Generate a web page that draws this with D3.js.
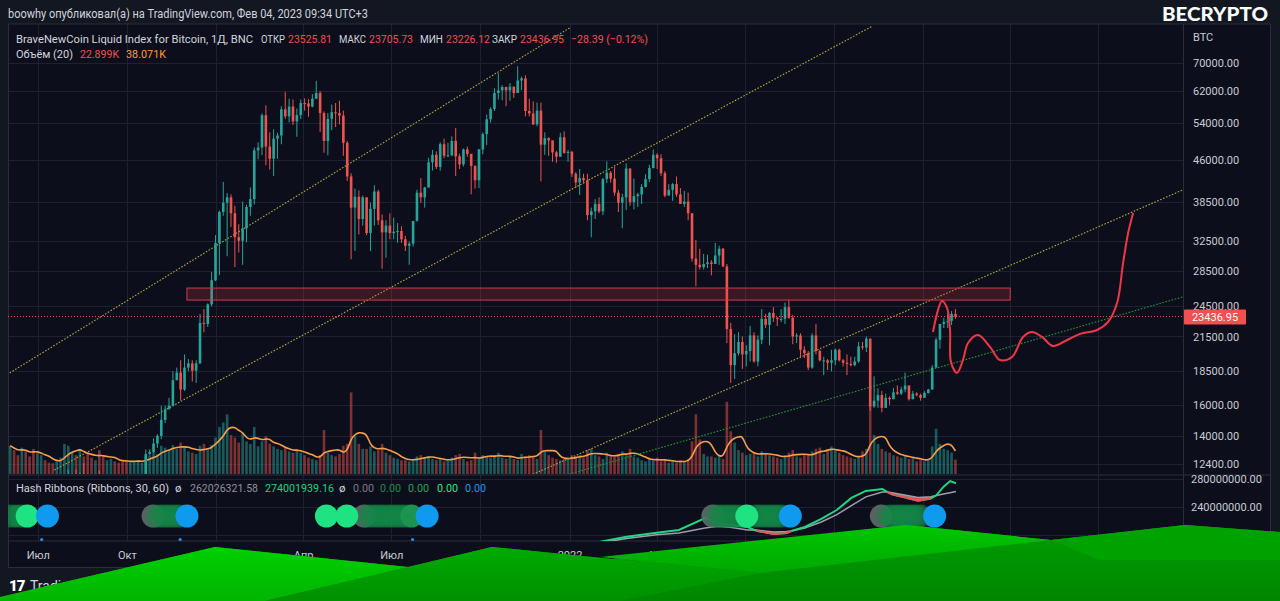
<!DOCTYPE html>
<html><head><meta charset="utf-8">
<script src="https://cdn.jsdelivr.net/npm/d3@7/dist/d3.min.js"></script>
<style>
html,body{margin:0;padding:0;background:#131722;overflow:hidden}
svg{display:block}
</style></head><body>
<script>
// ---------------- DATA ----------------
// 4-day candles (prices in thousands), starting 2020-06-01
const candleStart = '2020-06-01';
const candleDays = 4;
const firstOpen = 9.45;
const closes = [
9.79,9.77,9.46,9.52,9.35,9.28,9.0,9.1,9.34,9.27,
9.25,9.16,9.52,9.9,11.1,11.2,11.6,11.4,11.8,11.75,
11.65,11.3,11.65,10.5,10.1,10.45,10.95,10.9,10.75,10.7,
10.6,10.6,11.3,11.43,11.5,12.95,13.05,13.55,14.0,15.0,
15.7,15.95,17.8,18.4,17.1,18.8,19.15,18.55,19.15,22.8,
22.7,24.7,27.4,32.2,36.8,38.3,39.2,36.6,33.0,32.5,
34.3,37.6,38.9,48.0,48.6,55.9,48.8,46.3,50.5,51.2,
57.3,55.6,58.0,54.4,55.9,58.9,58.8,58.0,60.0,61.5,
56.4,50.0,55.0,56.6,56.4,55.8,49.6,42.9,37.5,39.3,
35.7,39.2,33.6,37.3,40.2,35.5,33.7,34.7,33.6,33.8,
33.9,32.7,31.8,32.1,35.4,40.0,39.2,40.9,45.6,47.1,
44.7,49.3,46.9,47.0,50.0,46.8,45.2,48.2,47.3,44.9,
42.2,48.2,51.5,54.9,57.4,61.5,62.2,63.1,62.2,63.2,
61.5,64.9,65.5,56.9,56.3,53.7,57.0,49.2,50.6,50.1,
47.6,46.7,50.8,47.5,47.7,43.4,41.8,42.6,42.2,36.3,
36.9,38.1,36.9,42.4,43.6,42.5,40.0,38.3,39.2,44.4,
38.4,39.4,39.7,41.0,42.4,44.5,47.1,46.4,43.5,39.5,
40.5,41.5,39.7,38.1,38.5,36.6,30.1,29.3,29.0,29.4,
29.6,29.4,30.5,31.4,29.1,22.2,19.0,20.0,21.0,19.9,
20.2,21.6,19.3,21.2,23.2,22.6,23.8,23.3,23.2,23.2,
24.4,23.3,21.5,21.6,20.3,20.0,18.8,21.6,20.2,19.4,
19.4,19.2,19.4,20.3,19.4,19.2,19.1,19.0,19.3,20.6,
20.5,21.3,15.9,16.3,16.7,15.8,16.5,16.4,16.9,16.8,
17.1,17.4,16.4,16.8,16.7,16.5,16.85,17.1,18.8,21.2,
22.7,22.9,23.0,23.7,23.43695];
const highs = [
10.4,9.85,9.99,9.55,9.55,9.75,9.35,9.25,9.38,9.45,
9.35,9.25,9.55,10.0,11.4,12.1,11.9,12.1,11.95,12.45,
11.9,11.8,11.8,12.05,10.6,10.6,11.0,11.1,10.95,10.95,
10.9,10.8,11.5,11.7,11.55,13.2,13.2,13.85,14.1,15.95,
15.95,16.5,18.5,18.8,19.4,19.9,19.5,19.4,19.4,23.7,
24.2,24.8,28.4,33.3,37.0,41.9,39.9,39.7,37.8,34.9,
38.5,38.0,40.9,48.6,49.7,56.3,58.3,51.9,52.6,51.8,
58.1,61.8,60.0,59.8,57.5,59.8,60.1,59.9,61.2,64.8,
62.0,56.8,56.4,58.5,58.9,59.5,57.0,50.0,43.5,40.7,
40.4,39.5,37.9,38.3,41.3,40.5,36.4,35.5,36.6,35.9,
35.1,34.6,33.2,32.4,35.4,40.5,42.6,41.0,46.5,48.1,
47.8,49.7,50.5,49.6,51.0,52.9,47.3,48.4,48.8,47.0,
45.0,48.3,51.9,56.0,57.8,62.8,67.0,63.6,63.2,64.2,
63.0,69.0,66.0,66.4,60.0,59.3,59.0,59.0,51.9,50.8,
49.5,47.9,51.8,52.1,48.1,47.9,43.7,44.3,43.4,43.4,
37.5,38.9,39.2,42.6,45.8,43.9,44.7,40.5,39.8,45.4,
43.9,42.5,40.0,41.5,43.3,45.1,48.2,47.4,47.2,43.9,
41.5,41.7,42.9,40.8,40.3,40.0,36.6,32.6,31.4,30.7,
30.6,29.9,32.2,31.8,31.5,29.4,22.8,21.7,21.9,21.5,
20.7,22.5,21.9,21.6,24.2,23.7,23.9,24.4,23.4,24.2,
24.9,25.2,23.6,21.8,21.8,20.6,20.2,21.8,22.7,20.3,
19.7,19.5,20.3,20.4,20.4,19.5,19.9,19.7,19.7,21.0,
21.0,21.5,21.1,18.1,17.2,17.0,16.8,16.6,17.2,17.4,
17.3,18.4,17.3,17.0,16.9,16.8,16.98,17.15,19.0,21.4,
22.7,23.3,23.8,24.0,24.2];
const lows = [
9.4,9.55,9.1,8.95,9.2,9.25,8.9,8.9,9.0,9.1,
9.15,9.05,9.1,9.45,9.9,10.7,11.1,11.2,11.2,11.6,
11.4,11.1,11.3,10.0,9.9,10.1,10.2,10.75,10.1,10.6,
10.45,10.5,10.6,11.2,11.25,11.4,12.9,13.0,13.3,13.8,
14.8,15.8,15.9,17.8,16.3,17.0,18.5,17.7,17.6,19.1,
21.9,22.4,24.5,27.3,28.0,36.2,30.4,34.5,29.0,30.9,
29.3,32.3,36.2,38.0,46.2,47.1,45.0,44.2,43.0,46.3,
49.3,55.0,54.2,53.6,50.9,55.0,57.0,55.5,57.8,60.0,
52.0,47.5,47.0,52.4,53.1,53.7,46.9,42.1,30.0,31.1,
33.4,34.7,33.3,31.1,34.7,34.8,28.8,30.2,32.7,32.7,
32.2,32.2,31.1,29.3,31.7,35.3,38.3,37.5,42.9,44.0,
44.3,44.0,46.4,46.6,46.8,43.0,44.3,44.8,46.7,39.7,
40.7,40.8,47.2,49.1,54.1,56.9,59.8,59.6,58.1,59.5,
60.2,62.8,62.3,55.6,55.6,53.6,53.3,42.0,47.1,46.9,
45.7,45.5,48.4,47.3,45.7,42.8,40.8,39.6,41.6,35.5,
33.0,35.7,36.6,36.3,41.7,41.8,39.5,36.8,34.3,37.1,
37.8,37.2,37.6,38.1,40.9,41.9,44.4,44.3,43.0,39.2,
39.6,38.6,39.3,38.2,37.6,35.5,29.7,26.7,28.7,28.7,
28.9,28.0,29.5,29.3,29.0,20.9,17.6,17.9,19.8,18.7,
18.9,19.3,19.2,18.9,20.8,22.3,20.7,22.9,22.5,22.9,
22.7,23.2,20.8,20.9,19.6,19.6,18.6,18.7,19.9,19.3,
18.2,18.6,18.5,19.0,19.3,18.9,18.2,18.9,18.9,19.2,
20.3,20.1,15.6,15.8,15.8,15.5,15.8,16.0,16.4,16.7,
16.7,16.9,16.3,16.4,16.6,16.3,16.5,16.8,17.1,18.8,
20.4,22.3,22.3,22.6,23.2];
// volume per candle (K)
const volumes = [
45,38,30,42,36,28,40,33,30,
22,18,17,20,26,
48,45,35,30,40,28,32,
26,22,38,30,22,24,20,18,22,20,21,19,22,18,28,
30,34,32,45,42,38,46,40,50,42,36,34,
32,45,48,40,46,58,
75,82,95,62,58,50,66,52,
48,75,44,52,60,48,
44,40,38,42,36,34,40,34,30,
26,24,22,30,70,
34,30,28,32,45,
48,130,60,48,40,
40,44,36,38,48,34,30,26,24,22,
22,20,24,28,30,26,28,24,22,24,20,22,26,30,32,24,20,22,34,26,
30,28,26,30,34,26,24,28,24,22,32,28,30,26,24,70,36,30,26,24,22,
24,26,30,28,30,26,38,
40,30,28,24,34,30,
28,32,36,30,40,28,26,
22,20,24,22,26,20,22,18,20,18,22,20,
24,52,95,55,32,28,
28,26,30,24,
115,68,50,38,34,30,
32,34,28,36,32,30,28,26,24,30,34,38,28,26,32,30,36,40,42,32,
40,44,38,34,30,28,
26,24,28,36,40,
110,62,48,40,36,34,
30,28,26,30,24,26,20,22,
20,24,
44,72,48,40,38,34,23];
const maPeriod = 5; // 5 x 4-day candles = 20 days
const lastOHLC = [23525.81, 23705.73, 23226.12, 23436.95];
const lastChange = '−28.39 (−0.12%)';
const volLegend = ['22.899K', '38.071K'];

const priceTicks = [70000,62000,54000,46000,38500,32500,28500,24500,21500,18500,16000,14000,12400];
const timeTickDates = ['2020-07-01','2020-10-01','2021-01-01','2021-04-01','2021-07-01','2021-10-01','2022-01-01','2022-04-01','2022-07-01','2022-10-01','2023-01-01','2023-04-01','2023-07-01'];
const timeTickLabels = ['Июл','Окт','2021','Апр','Июл','Окт','2022','Апр','Июл','Окт','2023','Апр','Июл'];

const zoneDates = ['2020-12-02','2023-04-01'];
const zonePrices = [25160, 26500];
const trendUpper = [['2020-06-02',18370],['2022-01-01',81420]];
const trendMid   = [['2020-07-18',12080],['2022-11-10',82120]];
const trendLow   = [['2021-11-18',11730],['2023-09-26',40460]];
const trendGreen = [['2021-12-22',11730],['2023-09-26',25500]];

const forecastBase = '2023-01-01';
const forecastDays = [10.3,19.6,24.8,27.9,28.9,35.1,41.3,46.5,56.8,69.2,79.5,91.9,103.3,112.6,122.9,134.3,148.8,162.2,179.8,191.1,200.4,206.6,211.8,217];
const forecastPrices = [21920,25060,24320,22110,19260,18370,19430,20910,21640,20550,19430,19680,21460,21920,21460,20630,21180,21740,22110,22890,24840,29530,33610,36640];

// Hash Ribbons (hash rate SMA, millions)
const hashDates = ['2022-02-02','2022-03-01','2022-04-01','2022-04-24','2022-05-21','2022-06-03','2022-06-16','2022-07-04','2022-07-13','2022-07-31','2022-08-13','2022-08-18','2022-09-01','2022-09-18','2022-10-04','2022-10-19','2022-11-03','2022-11-20','2022-11-25','2022-11-30','2022-12-13','2022-12-27','2023-01-09','2023-01-15','2023-01-22','2023-01-29','2023-02-04'];
const hash30 = [190.4,197.6,203.3,207.1,224.3,217.1,214.3,211.4,206.0,201.4,202.9,205.7,211.4,222.9,235.7,252.9,262.9,265.7,261.5,258.0,254.0,249.0,252.0,257.1,268.6,277.1,274.0];
const hash60 = [189.0,195.0,200.5,203.0,210.0,212.5,211.0,207.1,207.0,204.3,205.0,205.7,210.0,218.5,229.0,242.0,254.5,261.4,261.5,260.5,257.1,253.5,254.5,256.5,258.5,260.5,262.0];
const hashTicks = [280,240,200];
const hashLegend = ['262026321.58','274001939.16'];
const bubbleDotDates = ['2020-06-20','2020-07-11','2020-10-28','2020-12-02','2021-04-25','2021-05-16','2021-06-03','2021-07-22','2021-08-07','2022-05-29','2022-07-03','2022-08-17','2022-11-19','2023-01-13'];
const bubbleDotTypes = ['green','blue','gray','blue','green','green','gray','dgreen','blue','gray','green','blue','gray','blue'];
const bubbleBandStarts = ['2020-05-31','2020-10-31','2021-06-06','2022-06-01','2022-07-10','2022-11-25'];
const bubbleBandEnds   = ['2020-06-16','2020-11-26','2021-07-18','2022-06-27','2022-08-10','2022-12-31'];
const signalMarkDates = ['2020-07-05','2020-11-25','2021-07-23'];

// ---------------- CHART ----------------
const DAY = 864e5;
const P = s => new Date(s + 'T00:00:00Z');
const FONT = 'Roboto, "Noto Sans", "DejaVu Sans", sans-serif';
const pane = {x0: 8, x1: 1183, y0: 24, y1: 474};
const rib = {y0: 476, y1: 541};

const svg = d3.select('body').append('svg').attr('width', 1280).attr('height', 601);
const defs = svg.append('defs');
defs.append('clipPath').attr('id', 'clipMain').append('rect')
  .attr('x', pane.x0).attr('y', pane.y0).attr('width', pane.x1 - pane.x0).attr('height', pane.y1 - pane.y0);
defs.append('clipPath').attr('id', 'clipRib').append('rect')
  .attr('x', pane.x0).attr('y', rib.y0).attr('width', pane.x1 - pane.x0).attr('height', rib.y1 - rib.y0);

const x = d3.scaleUtc().domain([P('2021-01-01'), P('2023-01-01')]).range([216, 923]);
const y = d3.scaleLog().domain([12400, 70000]).range([464, 63]);
const vy = d3.scaleLinear().domain([0, 180]).range([pane.y1, pane.y1 - 113]);
const hy = d3.scaleLinear().domain([240, 280]).range([507, 479]);

// backgrounds
svg.append('rect').attr('width', 1280).attr('height', 601).attr('fill', '#131722');
svg.append('rect').attr('x', 8).attr('y', 24).attr('width', 1262).attr('height', 544).attr('fill', '#0c0f1b');

// grid
const grid = svg.append('g').attr('stroke', '#1d2232').attr('stroke-width', 1);
grid.selectAll('.hg').data(priceTicks).join('line')
  .attr('x1', pane.x0).attr('x2', pane.x1).attr('y1', d => Math.round(y(d)) + 0.5).attr('y2', d => Math.round(y(d)) + 0.5);
grid.selectAll('.hh').data(hashTicks).join('line')
  .attr('x1', pane.x0).attr('x2', pane.x1).attr('y1', d => Math.round(hy(d)) + 0.5).attr('y2', d => Math.round(hy(d)) + 0.5);
grid.selectAll('.vg').data(timeTickDates.map(P)).join('line')
  .attr('x1', d => Math.round(x(d)) + 0.5).attr('x2', d => Math.round(x(d)) + 0.5)
  .attr('y1', pane.y0).attr('y2', rib.y1)
  .attr('visibility', d => x(d) < pane.x1 ? 'visible' : 'hidden');

// borders
const bord = svg.append('g').attr('stroke', '#2a2e3b').attr('stroke-width', 1);
[[8, 24, 1270, 24], [8, 475, 1270, 475], [8, 541, 1270, 541], [8, 567.5, 1270, 567.5],
 [8.5, 24, 8.5, 567.5], [1183.5, 24, 1183.5, 567.5], [1270.5, 24, 1270.5, 567.5]]
  .forEach(l => bord.append('line').attr('x1', l[0]).attr('y1', l[1]).attr('x2', l[2]).attr('y2', l[3]));

// candles
const t0 = P(candleStart).getTime();
const candles = closes.map((c, i) => {
  const o = i ? closes[i - 1] : firstOpen;
  return {
    d: new Date(t0 + i * candleDays * DAY),
    o: o * 1000, c: c * 1000,
    h: Math.max(highs[i], o, c) * 1000, l: Math.min(lows[i], o, c) * 1000,
    v: volumes[i]
  };
});
candles.forEach((k, i) => {
  const s = volumes.slice(Math.max(0, i - maPeriod + 1), i + 1);
  k.ma = d3.mean(s);
});
const cx = k => x(new Date(k.d.getTime() + 1.5 * DAY));
const up = '#26a69a', dn = '#ef5350';
const bw = 2.6;

const main = svg.append('g').attr('clip-path', 'url(#clipMain)');

// volume
main.append('g').selectAll('rect').data(candles).join('rect')
  .attr('x', k => cx(k) - bw / 2).attr('width', bw)
  .attr('y', k => vy(k.v)).attr('height', k => vy(0) - vy(k.v))
  .attr('fill', k => k.c >= k.o ? up : dn).attr('opacity', 0.5);
main.append('path').datum(candles)
  .attr('d', d3.line().x(cx).y(k => vy(k.ma)).curve(d3.curveBasis))
  .attr('fill', 'none').attr('stroke', '#f59f4c').attr('stroke-width', 1.6);

// trend lines
const trendLine = d3.line().x(p => x(P(p[0]))).y(p => y(p[1]));
[[trendUpper, '#aeaa3c'], [trendMid, '#aeaa3c'], [trendLow, '#aeaa3c'], [trendGreen, '#2a9634']].forEach(([t, col]) => {
  main.append('path').attr('d', trendLine(t)).attr('fill', 'none')
    .attr('stroke', col).attr('stroke-width', 1.1).attr('stroke-dasharray', '1.6,1.6');
});

// candles draw
const cg = main.append('g');
cg.selectAll('line').data(candles).join('line')
  .attr('x1', k => cx(k)).attr('x2', k => cx(k))
  .attr('y1', k => y(k.h)).attr('y2', k => y(k.l))
  .attr('stroke', k => k.c >= k.o ? up : dn).attr('stroke-width', 1);
cg.selectAll('rect').data(candles).join('rect')
  .attr('x', k => cx(k) - bw / 2).attr('width', bw)
  .attr('y', k => y(Math.max(k.o, k.c)))
  .attr('height', k => Math.max(1, Math.abs(y(k.o) - y(k.c))))
  .attr('fill', k => k.c >= k.o ? up : dn);

// zone rectangle
main.append('rect')
  .attr('x', x(P(zoneDates[0]))).attr('width', x(P(zoneDates[1])) - x(P(zoneDates[0])))
  .attr('y', y(zonePrices[1])).attr('height', y(zonePrices[0]) - y(zonePrices[1]))
  .attr('fill', 'rgba(242,54,69,0.2)').attr('stroke', '#d63a50').attr('stroke-width', 1);

// last price dotted line
main.append('line').attr('x1', pane.x0).attr('x2', pane.x1)
  .attr('y1', y(lastOHLC[3])).attr('y2', y(lastOHLC[3]))
  .attr('stroke', '#ef5350').attr('stroke-width', 1).attr('stroke-dasharray', '1,2');

// forecast curve
const fb = P(forecastBase).getTime();
main.append('path').datum(forecastDays.map((d, i) => [new Date(fb + d * DAY), forecastPrices[i]]))
  .attr('d', d3.line().x(p => x(p[0])).y(p => y(p[1])).curve(d3.curveCatmullRom.alpha(0.5)))
  .attr('fill', 'none').attr('stroke', '#f23645').attr('stroke-width', 2);

// ---------- Hash ribbons pane ----------
const rg = svg.append('g').attr('clip-path', 'url(#clipRib)');
const hd = hashDates.map((s, i) => ({d: P(s), a: hash30[i], b: hash60[i]}));
rg.append('path').datum(hd)
  .attr('d', d3.area().x(p => x(p.d)).y0(p => hy(p.b)).y1(p => hy(Math.min(p.a, p.b))))
  .attr('fill', '#f0504f').attr('opacity', 0.9);
rg.append('path').datum(hd)
  .attr('d', d3.line().x(p => x(p.d)).y(p => hy(p.b)))
  .attr('fill', 'none').attr('stroke', '#a09caf').attr('stroke-width', 1.5);
rg.append('path').datum(hd)
  .attr('d', d3.line().x(p => x(p.d)).y(p => hy(p.a)))
  .attr('fill', 'none').attr('stroke', '#22d67f').attr('stroke-width', 2);
rg.append('path').datum(hd)
  .attr('d', d3.line().defined(p => p.a <= p.b + 0.01).x(p => x(p.d)).y(p => hy(p.a)))
  .attr('fill', 'none').attr('stroke', '#f0504f').attr('stroke-width', 2);

// bubbles
const BY = 516, BR = 11.5;
const bcol = {green: '#1fe382', dgreen: '#1a9450', gray: '#5e6d68', blue: '#0f9af0'};
const dots = bubbleDotDates.map((s, i) => ({d: P(s), t: bubbleDotTypes[i]}));
const bandCircles = [];
bubbleBandStarts.forEach((s, i) => {
  for (let t = P(s).getTime(); t <= P(bubbleBandEnds[i]).getTime(); t += DAY) bandCircles.push(new Date(t));
});
rg.append('g').selectAll('circle').data(dots.filter(d => d.t === 'gray')).join('circle')
  .attr('cx', d => x(d.d)).attr('cy', BY).attr('r', BR).attr('fill', bcol.gray).attr('opacity', 0.9);
rg.append('g').selectAll('circle').data(bandCircles).join('circle')
  .attr('cx', d => x(d)).attr('cy', BY).attr('r', BR).attr('fill', '#178a48').attr('opacity', 0.16);
['dgreen', 'green', 'blue'].forEach(tp => {
  rg.append('g').selectAll('circle').data(dots.filter(d => d.t === tp)).join('circle')
    .attr('cx', d => x(d.d)).attr('cy', BY).attr('r', BR).attr('fill', bcol[tp]);
});
rg.append('g').selectAll('circle').data(signalMarkDates.map(P)).join('circle')
  .attr('cx', d => x(d)).attr('cy', 539.5).attr('r', 1.6).attr('fill', '#1e90e8');

// ---------- axes ----------
const styleAxis = g => {
  g.select('.domain').remove();
  g.selectAll('text').attr('fill', '#c8cbd3').attr('font-family', FONT).attr('font-size', 11);
};
svg.append('g').attr('transform', `translate(${pane.x1},0)`)
  .call(d3.axisRight(y).tickValues(priceTicks).tickSize(0).tickPadding(10).tickFormat(d3.format('.2f')))
  .call(styleAxis);
svg.append('g').attr('transform', `translate(${pane.x1},0)`)
  .call(d3.axisRight(hy).tickValues(hashTicks).tickSize(0).tickPadding(8).tickFormat(d => (d * 1e6).toFixed(2)))
  .call(styleAxis);
svg.append('g').attr('transform', `translate(0,${rib.y1})`)
  .call(d3.axisBottom(x).tickValues(timeTickDates.map(P)).tickSize(0).tickPadding(10).tickFormat((d, i) => timeTickLabels[i]))
  .call(styleAxis);

// last price label
const lpY = y(lastOHLC[3]);
svg.append('rect').attr('x', 1184).attr('y', lpY - 7).attr('width', 62).attr('height', 15).attr('fill', '#f0504f').attr('rx', 1);
svg.append('text').attr('x', 1215).attr('y', lpY + 4.5).attr('text-anchor', 'middle')
  .attr('fill', '#ffffff').attr('font-family', FONT).attr('font-size', 11).text(lastOHLC[3].toFixed(2));
svg.append('text').attr('x', 1193).attr('y', 41).attr('fill', '#c8cbd3')
  .attr('font-family', FONT).attr('font-size', 11).text('BTC');

// ---------- texts ----------
const fit = (w) => t => t.attr('textLength', w).attr('lengthAdjust', 'spacingAndGlyphs');
const txt = (xx, yy, s, col, size, extra) => {
  const t = svg.append('text').attr('x', xx).attr('y', yy).attr('fill', col)
    .attr('font-family', FONT).attr('font-size', size || 11.5).text(s);
  if (extra) extra(t);
  return t;
};
txt(8, 18, 'boowhy опубликовал(а) на TradingView.com, Фев 04, 2023 09:34 UTC+3', '#d1d4dc', 12, fit(360));
const W1 = '#d1d4dc', RED = '#f0504f';
txt(16, 43, 'BraveNewCoin Liquid Index for Bitcoin, 1Д, BNC', W1, 11.5, fit(237));
const lbl = ['ОТКР', 'МАКС', 'МИН', 'ЗАКР'];
const lblX = [261, 339, 420, 492], lblW = [24, 27, 23, 25], valX = [288, 369, 446, 520];
lbl.forEach((l, i) => {
  txt(lblX[i], 43, l, W1, 11, fit(lblW[i]));
  txt(valX[i], 43, lastOHLC[i].toFixed(2), RED, 11.5, fit(44));
});
txt(571, 43, lastChange, RED, 11.5, fit(77));
txt(16, 58, 'Объём (20)', W1, 11.5, fit(57));
txt(80, 58, volLegend[0], RED, 11.5, fit(39));
txt(126, 58, volLegend[1], '#ff9a3c', 11.5, fit(40));

txt(16, 492, 'Hash Ribbons (Ribbons, 30, 60)', W1, 11.5, fit(153));
txt(175, 492, 'ø', W1, 11.5);
txt(190, 492, hashLegend[0], '#8f929b', 11.5, fit(68));
txt(265, 492, hashLegend[1], '#25d07c', 11.5, fit(69));
txt(339, 492, 'ø', W1, 11.5);
[['#787b86', 353], ['#1b8a4a', 380], ['#22a35a', 408], ['#2ee07f', 437], ['#1e96f0', 465]]
  .forEach(([c, xx]) => txt(xx, 492, '0.00', c, 11.5, fit(21)));

// BECRYPTO watermark
txt(1162, 21, 'BECRYPTO', '#ffffff', 18, t => t.attr('font-weight', 900)
  .attr('font-family', 'Lato, "Open Sans", sans-serif').attr('textLength', 106).attr('lengthAdjust', 'spacingAndGlyphs'));

// TradingView logo (mostly covered)
txt(9, 591, '17', '#ffffff', 15, t => t.attr('font-weight', 900).attr('letter-spacing', -1));
txt(30, 591, 'TradingView', '#d1d4dc', 14);

// ---------- green overlay (decorative) ----------
const gd = (id, c1, c2) => {
  const g = defs.append('linearGradient').attr('id', id).attr('x1', 0).attr('y1', 0).attr('x2', 0).attr('y2', 1);
  g.append('stop').attr('offset', '0%').attr('stop-color', c1);
  g.append('stop').attr('offset', '100%').attr('stop-color', c2);
};
gd('gBright', '#00d000', '#00b400');
gd('gMid', '#00aa00', '#009000');
gd('gBand', '#00c600', '#00a800');
gd('gDark', '#009e00', '#008600');
const shapes = [
  {pts: [[0,597],[215,547],[408,567],[492,547],[612,559],[906,525],[1051,540],[1185,525],[1280,532],[1280,601],[0,601]], fill: 'url(#gDark)'},
  {pts: [[0,597],[215,547],[408,567],[265,601],[0,601]], fill: 'url(#gBright)'},
  {pts: [[265,601],[408,567],[492,547],[612,559],[760,573],[620,601]], fill: 'url(#gMid)'},
  {pts: [[600,557],[906,525],[1051,540],[760,573]], fill: 'url(#gBand)'},
  {pts: [[1051,540],[1185,525],[1280,532],[1280,560],[1100,560]], fill: '#00a200'}
];
svg.append('g').selectAll('path').data(shapes).join('path')
  .attr('d', s => 'M' + s.pts.map(p => p.join(',')).join('L') + 'Z')
  .attr('fill', s => s.fill);
</script>
</body></html>
